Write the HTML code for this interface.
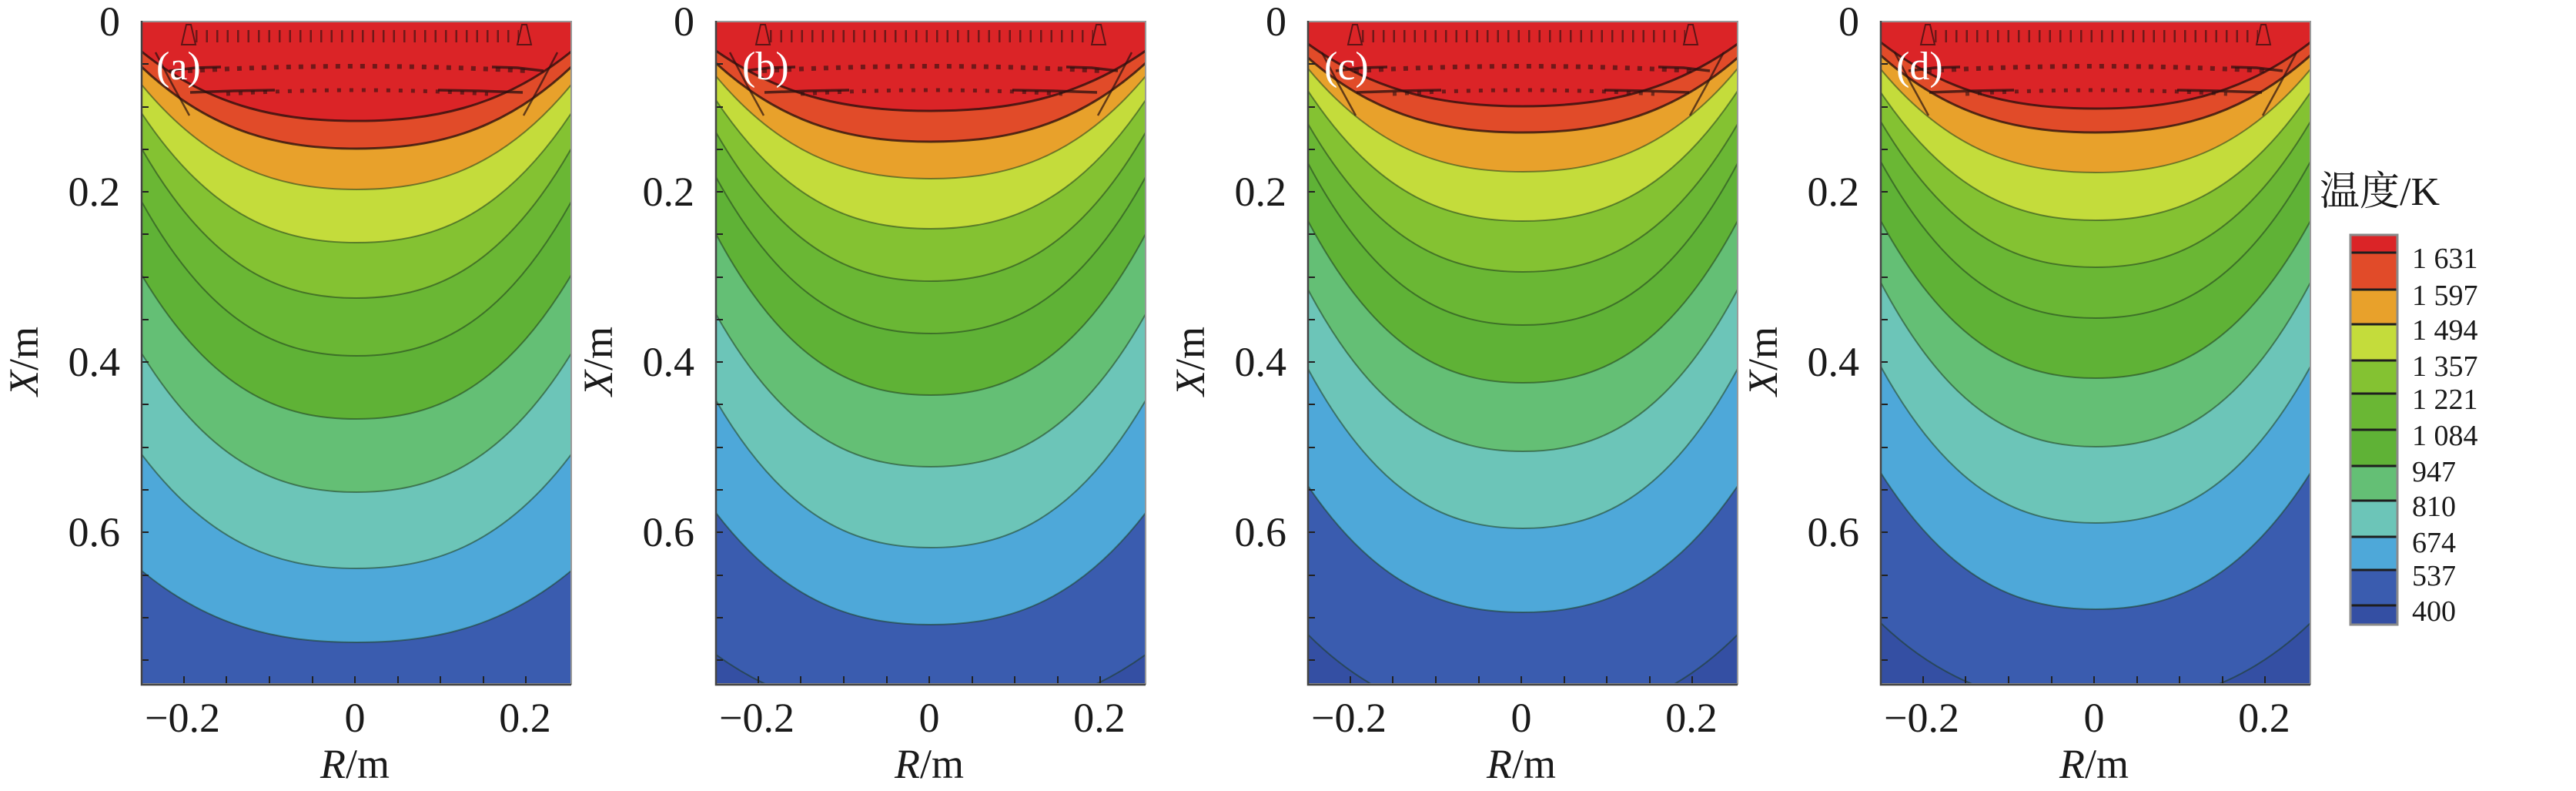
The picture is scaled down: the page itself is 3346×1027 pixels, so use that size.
<!DOCTYPE html>
<html><head><meta charset="utf-8"><style>
html,body{margin:0;padding:0;background:#fff;}
svg{display:block;}
text{font-family:"Liberation Serif","Noto Serif CJK SC",serif;fill:#1a1a1a;}
</style></head><body>
<svg width="3346" height="1027" viewBox="0 0 3346 1027" xmlns="http://www.w3.org/2000/svg">
<defs>
<clipPath id="clip" clipPathUnits="userSpaceOnUse"><rect x="0" y="28" width="558" height="860"/></clipPath>
<g id="vec" fill="none" stroke="#2a1010">
 <line x1="70" y1="47" x2="490" y2="47" stroke-width="16" stroke-dasharray="2.5 11" opacity="0.6"/>
 <path d="M60,92 Q279,80 500,92" stroke-width="6" stroke-dasharray="6 10" opacity="0.6"/>
 <path d="M110,122 Q279,112 450,122" stroke-width="5" stroke-dasharray="5 11" opacity="0.6"/>
 <path d="M36,92 L70,88 L103,87" stroke-width="3.5" opacity="0.75"/>
 <path d="M522,92 L488,88 L455,87" stroke-width="3.5" opacity="0.75"/>
 <path d="M63,120 L120,118 L173,117" stroke-width="3.5" opacity="0.75"/>
 <path d="M495,120 L438,118 L385,117" stroke-width="3.5" opacity="0.75"/>
 <path d="M58,32 L64,32 L70,58 L52,58 Z" stroke-width="2" opacity="0.7"/>
 <path d="M494,32 L500,32 L506,58 L488,58 Z" stroke-width="2" opacity="0.7"/>
 <path d="M18,68 L40,110 L62,150" stroke-width="2.5" opacity="0.7"/>
 <path d="M540,68 L518,110 L496,150" stroke-width="2.5" opacity="0.7"/>
</g>
<g id="ticks" stroke="#222" stroke-width="2" fill="none">
 <path d="M0,83h9M0,139h9M0,194h9M0,249h9M0,304h9M0,360h9M0,415h9M0,470h9M0,525h9M0,581h9M0,636h9M0,691h9M0,747h9M0,802h9M0,857h9"/>
 <path d="M55,888v-10M110,888v-10M166,888v-10M222,888v-10M277,888v-10M333,888v-10M388,888v-10M444,888v-10M499,888v-10"/>
</g>
<g id="frame">
 <rect x="0" y="28" width="558" height="860" fill="none" stroke="#9a9a9a" stroke-width="2"/>
 <path d="M0,27 V889 H558" fill="none" stroke="#444" stroke-width="2.5"/>
</g>
<g id="labels" font-size="54">
 <text x="-28" y="46" text-anchor="end">0</text>
 <text x="-28" y="267" text-anchor="end">0.2</text>
 <text x="-28" y="488" text-anchor="end">0.4</text>
 <text x="-28" y="709" text-anchor="end">0.6</text>
 <text x="53" y="950" text-anchor="middle">−0.2</text>
 <text x="277" y="950" text-anchor="middle">0</text>
 <text x="498" y="950" text-anchor="middle">0.2</text>
 <text x="277" y="1010" text-anchor="middle"><tspan font-style="italic">R</tspan>/m</text>
 <text transform="translate(-153,469) rotate(-90)" x="0" y="18" text-anchor="middle"><tspan font-style="italic">X</tspan>/m</text>
</g>
</defs>
<rect width="3346" height="1027" fill="#fff"/>

<!-- Panel a -->
<g transform="translate(184,0)">
 <g clip-path="url(#clip)">
  <rect x="0" y="20" width="558" height="880" fill="#3a5caf"/>
  <path d="M0,20 L0,741 C93,818 186,834 279,834 C372,834 465,818 558,741 L558,20Z" fill="#4ea8d9"/>
  <path d="M0,20 L0,590 C93,713 186,738 279,738 C372,738 465,713 558,590 L558,20Z" fill="#6cc5b8"/>
  <path d="M0,20 L0,459 C93,609 186,639 279,639 C372,639 465,609 558,459 L558,20Z" fill="#64bf75"/>
  <path d="M0,20 L0,357 C93,513 186,544 279,544 C372,544 465,513 558,357 L558,20Z" fill="#5fb236"/>
  <path d="M0,20 L0,262 C93,429 186,462 279,462 C372,462 465,429 558,262 L558,20Z" fill="#6ab734"/>
  <path d="M0,20 L0,193 C93,355 186,387 279,387 C372,387 465,355 558,193 L558,20Z" fill="#84c232"/>
  <path d="M0,20 L0,147 C93,287 186,315 279,315 C372,315 465,287 558,147 L558,20Z" fill="#c4dc3b"/>
  <path d="M0,20 L0,110 C93,223 186,246 279,246 C372,246 465,223 558,110 L558,20Z" fill="#e8a12b"/>
  <path d="M0,20 L0,87 C93,175 186,193 279,193 C372,193 465,175 558,87 L558,20Z" fill="#e14b29"/>
  <path d="M0,20 L0,67 C93,142 186,157 279,157 C372,157 465,142 558,67 L558,20Z" fill="#db2427"/>
  <g fill="none" stroke="#1d3a1d" stroke-opacity="0.55" stroke-width="2">
   <path d="M0,741 C93,818 186,834 279,834 C372,834 465,818 558,741"/>
   <path d="M0,590 C93,713 186,738 279,738 C372,738 465,713 558,590"/>
   <path d="M0,459 C93,609 186,639 279,639 C372,639 465,609 558,459"/>
   <path d="M0,357 C93,513 186,544 279,544 C372,544 465,513 558,357"/>
   <path d="M0,262 C93,429 186,462 279,462 C372,462 465,429 558,262"/>
   <path d="M0,193 C93,355 186,387 279,387 C372,387 465,355 558,193"/>
   <path d="M0,147 C93,287 186,315 279,315 C372,315 465,287 558,147"/>
   <path d="M0,110 C93,223 186,246 279,246 C372,246 465,223 558,110"/>
  </g>
  <g fill="none" stroke="#220c0c" stroke-opacity="0.75" stroke-width="3">
   <path d="M0,87 C93,175 186,193 279,193 C372,193 465,175 558,87"/>
   <path d="M0,67 C93,142 186,157 279,157 C372,157 465,142 558,67"/>
  </g>
  <use href="#vec"/>
 </g>
 <use href="#ticks"/><use href="#frame"/><use href="#labels"/>
 <text x="19" y="103" font-size="52" style="fill:#fff">(a)</text>
</g>

<!-- Panel b -->
<g transform="translate(930,0)">
 <g clip-path="url(#clip)">
  <rect x="0" y="20" width="558" height="880" fill="#344fa3"/>
  <path d="M0,20 L0,850 C93,917 186,931 279,931 C372,931 465,917 558,850 L558,20Z" fill="#3a5caf"/>
  <path d="M0,20 L0,666 C93,787 186,811 279,811 C372,811 465,787 558,666 L558,20Z" fill="#4ea8d9"/>
  <path d="M0,20 L0,520 C93,679 186,711 279,711 C372,711 465,679 558,520 L558,20Z" fill="#6cc5b8"/>
  <path d="M0,20 L0,408 C93,573 186,606 279,606 C372,606 465,573 558,408 L558,20Z" fill="#64bf75"/>
  <path d="M0,20 L0,304 C93,478 186,513 279,513 C372,513 465,478 558,304 L558,20Z" fill="#5fb236"/>
  <path d="M0,20 L0,230 C93,399 186,433 279,433 C372,433 465,399 558,230 L558,20Z" fill="#6ab734"/>
  <path d="M0,20 L0,172 C93,333 186,365 279,365 C372,365 465,333 558,172 L558,20Z" fill="#84c232"/>
  <path d="M0,20 L0,130 C93,269 186,297 279,297 C372,297 465,269 558,130 L558,20Z" fill="#c4dc3b"/>
  <path d="M0,20 L0,99 C93,210 186,232 279,232 C372,232 465,210 558,99 L558,20Z" fill="#e8a12b"/>
  <path d="M0,20 L0,82 C93,167 186,184 279,184 C372,184 465,167 558,82 L558,20Z" fill="#e14b29"/>
  <path d="M0,20 L0,66 C93,131 186,144 279,144 C372,144 465,131 558,66 L558,20Z" fill="#db2427"/>
  <g fill="none" stroke="#1d3a1d" stroke-opacity="0.55" stroke-width="2">
   <path d="M0,850 C93,917 186,931 279,931 C372,931 465,917 558,850"/>
   <path d="M0,666 C93,787 186,811 279,811 C372,811 465,787 558,666"/>
   <path d="M0,520 C93,679 186,711 279,711 C372,711 465,679 558,520"/>
   <path d="M0,408 C93,573 186,606 279,606 C372,606 465,573 558,408"/>
   <path d="M0,304 C93,478 186,513 279,513 C372,513 465,478 558,304"/>
   <path d="M0,230 C93,399 186,433 279,433 C372,433 465,399 558,230"/>
   <path d="M0,172 C93,333 186,365 279,365 C372,365 465,333 558,172"/>
   <path d="M0,130 C93,269 186,297 279,297 C372,297 465,269 558,130"/>
   <path d="M0,99 C93,210 186,232 279,232 C372,232 465,210 558,99"/>
  </g>
  <g fill="none" stroke="#220c0c" stroke-opacity="0.75" stroke-width="3">
   <path d="M0,82 C93,167 186,184 279,184 C372,184 465,167 558,82"/>
   <path d="M0,66 C93,131 186,144 279,144 C372,144 465,131 558,66"/>
  </g>
  <use href="#vec"/>
 </g>
 <use href="#ticks"/><use href="#frame"/><use href="#labels"/>
 <text x="34" y="103" font-size="52" style="fill:#fff">(b)</text>
</g>

<!-- Panel c -->
<g transform="translate(1699,0)">
 <g clip-path="url(#clip)">
  <rect x="0" y="20" width="558" height="880" fill="#344fa3"/>
  <path d="M0,20 L0,824 C93,917 186,936 279,936 C372,936 465,917 558,824 L558,20Z" fill="#3a5caf"/>
  <path d="M0,20 L0,631 C93,768 186,795 279,795 C372,795 465,768 558,631 L558,20Z" fill="#4ea8d9"/>
  <path d="M0,20 L0,479 C93,651 186,686 279,686 C372,686 465,651 558,479 L558,20Z" fill="#6cc5b8"/>
  <path d="M0,20 L0,376 C93,551 186,586 279,586 C372,586 465,551 558,376 L558,20Z" fill="#64bf75"/>
  <path d="M0,20 L0,287 C93,462 186,497 279,497 C372,497 465,462 558,287 L558,20Z" fill="#5fb236"/>
  <path d="M0,20 L0,212 C93,387 186,422 279,422 C372,422 465,387 558,212 L558,20Z" fill="#6ab734"/>
  <path d="M0,20 L0,161 C93,321 186,353 279,353 C372,353 465,321 558,161 L558,20Z" fill="#84c232"/>
  <path d="M0,20 L0,118 C93,259 186,287 279,287 C372,287 465,259 558,118 L558,20Z" fill="#c4dc3b"/>
  <path d="M0,20 L0,89 C93,201 186,223 279,223 C372,223 465,201 558,89 L558,20Z" fill="#e8a12b"/>
  <path d="M0,20 L0,75 C93,156 186,172 279,172 C372,172 465,156 558,75 L558,20Z" fill="#e14b29"/>
  <path d="M0,20 L0,57 C93,124 186,138 279,138 C372,138 465,124 558,57 L558,20Z" fill="#db2427"/>
  <g fill="none" stroke="#1d3a1d" stroke-opacity="0.55" stroke-width="2">
   <path d="M0,824 C93,917 186,936 279,936 C372,936 465,917 558,824"/>
   <path d="M0,631 C93,768 186,795 279,795 C372,795 465,768 558,631"/>
   <path d="M0,479 C93,651 186,686 279,686 C372,686 465,651 558,479"/>
   <path d="M0,376 C93,551 186,586 279,586 C372,586 465,551 558,376"/>
   <path d="M0,287 C93,462 186,497 279,497 C372,497 465,462 558,287"/>
   <path d="M0,212 C93,387 186,422 279,422 C372,422 465,387 558,212"/>
   <path d="M0,161 C93,321 186,353 279,353 C372,353 465,321 558,161"/>
   <path d="M0,118 C93,259 186,287 279,287 C372,287 465,259 558,118"/>
   <path d="M0,89 C93,201 186,223 279,223 C372,223 465,201 558,89"/>
  </g>
  <g fill="none" stroke="#220c0c" stroke-opacity="0.75" stroke-width="3">
   <path d="M0,75 C93,156 186,172 279,172 C372,172 465,156 558,75"/>
   <path d="M0,57 C93,124 186,138 279,138 C372,138 465,124 558,57"/>
  </g>
  <use href="#vec"/>
 </g>
 <use href="#ticks"/><use href="#frame"/><use href="#labels"/>
 <text x="21" y="103" font-size="52" style="fill:#fff">(c)</text>
</g>

<!-- Panel d -->
<g transform="translate(2443,0)">
 <g clip-path="url(#clip)">
  <rect x="0" y="20" width="558" height="880" fill="#344fa3"/>
  <path d="M0,20 L0,809 C93,898 186,916 279,916 C372,916 465,898 558,809 L558,20Z" fill="#3a5caf"/>
  <path d="M0,20 L0,614 C93,761 186,791 279,791 C372,791 465,761 558,614 L558,20Z" fill="#4ea8d9"/>
  <path d="M0,20 L0,476 C93,645 186,679 279,679 C372,679 465,645 558,476 L558,20Z" fill="#6cc5b8"/>
  <path d="M0,20 L0,367 C93,544 186,580 279,580 C372,580 465,544 558,367 L558,20Z" fill="#64bf75"/>
  <path d="M0,20 L0,287 C93,457 186,491 279,491 C372,491 465,457 558,287 L558,20Z" fill="#5fb236"/>
  <path d="M0,20 L0,210 C93,379 186,413 279,413 C372,413 465,379 558,210 L558,20Z" fill="#6ab734"/>
  <path d="M0,20 L0,158 C93,315 186,347 279,347 C372,347 465,315 558,158 L558,20Z" fill="#84c232"/>
  <path d="M0,20 L0,120 C93,258 186,286 279,286 C372,286 465,258 558,120 L558,20Z" fill="#c4dc3b"/>
  <path d="M0,20 L0,90 C93,202 186,224 279,224 C372,224 465,202 558,90 L558,20Z" fill="#e8a12b"/>
  <path d="M0,20 L0,72 C93,155 186,172 279,172 C372,172 465,155 558,72 L558,20Z" fill="#e14b29"/>
  <path d="M0,20 L0,55 C93,127 186,141 279,141 C372,141 465,127 558,55 L558,20Z" fill="#db2427"/>
  <g fill="none" stroke="#1d3a1d" stroke-opacity="0.55" stroke-width="2">
   <path d="M0,809 C93,898 186,916 279,916 C372,916 465,898 558,809"/>
   <path d="M0,614 C93,761 186,791 279,791 C372,791 465,761 558,614"/>
   <path d="M0,476 C93,645 186,679 279,679 C372,679 465,645 558,476"/>
   <path d="M0,367 C93,544 186,580 279,580 C372,580 465,544 558,367"/>
   <path d="M0,287 C93,457 186,491 279,491 C372,491 465,457 558,287"/>
   <path d="M0,210 C93,379 186,413 279,413 C372,413 465,379 558,210"/>
   <path d="M0,158 C93,315 186,347 279,347 C372,347 465,315 558,158"/>
   <path d="M0,120 C93,258 186,286 279,286 C372,286 465,258 558,120"/>
   <path d="M0,90 C93,202 186,224 279,224 C372,224 465,202 558,90"/>
  </g>
  <g fill="none" stroke="#220c0c" stroke-opacity="0.75" stroke-width="3">
   <path d="M0,72 C93,155 186,172 279,172 C372,172 465,155 558,72"/>
   <path d="M0,55 C93,127 186,141 279,141 C372,141 465,127 558,55"/>
  </g>
  <use href="#vec"/>
 </g>
 <use href="#ticks"/><use href="#frame"/><use href="#labels"/>
 <text x="20" y="103" font-size="52" style="fill:#fff">(d)</text>
</g>

<!-- Colorbar -->
<text x="3013" y="266" font-size="52">温度/K</text>
<g>
 <rect x="3053" y="305" width="61" height="23" fill="#db2427"/>
 <rect x="3053" y="328" width="61" height="48" fill="#e14b29"/>
 <rect x="3053" y="376" width="61" height="45" fill="#e8a12b"/>
 <rect x="3053" y="421" width="61" height="47" fill="#c4dc3b"/>
 <rect x="3053" y="468" width="61" height="43" fill="#84c232"/>
 <rect x="3053" y="511" width="61" height="47" fill="#6ab734"/>
 <rect x="3053" y="558" width="61" height="47" fill="#5fb236"/>
 <rect x="3053" y="605" width="61" height="45" fill="#64bf75"/>
 <rect x="3053" y="650" width="61" height="47" fill="#6cc5b8"/>
 <rect x="3053" y="697" width="61" height="43" fill="#4ea8d9"/>
 <rect x="3053" y="740" width="61" height="46" fill="#3a5caf"/>
 <rect x="3053" y="786" width="61" height="25" fill="#344fa3"/>
 <path d="M3053,328h61M3053,376h61M3053,421h61M3053,468h61M3053,511h61M3053,558h61M3053,605h61M3053,650h61M3053,697h61M3053,740h61M3053,786h61" stroke="#1e1e1e" stroke-width="3" fill="none"/>
 <rect x="3053" y="305" width="61" height="506" fill="none" stroke="#8a8a8a" stroke-width="3"/>
</g>
<g font-size="38">
 <text x="3133" y="348">1 631</text>
 <text x="3133" y="396">1 597</text>
 <text x="3133" y="441">1 494</text>
 <text x="3133" y="488">1 357</text>
 <text x="3133" y="531">1 221</text>
 <text x="3133" y="578">1 084</text>
 <text x="3133" y="625">947</text>
 <text x="3133" y="670">810</text>
 <text x="3133" y="717">674</text>
 <text x="3133" y="760">537</text>
 <text x="3133" y="806">400</text>
</g>
</svg>
</body></html>
